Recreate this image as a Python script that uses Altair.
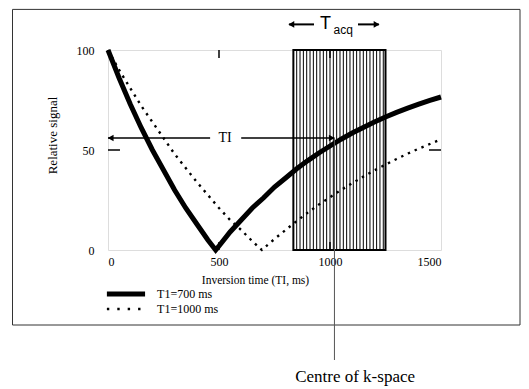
import altair as alt
import pandas as pd

# ---- data ----
t_700 = [0, 50, 100, 150, 200, 250, 300, 350, 400, 450, 485, 500, 550, 600, 650, 700, 750,
         800, 850, 900, 950, 1000, 1050, 1100, 1150, 1200, 1250, 1300, 1350, 1400, 1450, 1500]
s_700 = [100, 86, 73, 61, 50, 40, 30, 21, 13, 5, 0, 2, 9, 15, 21, 26, 31.5,
         36, 40.6, 44.7, 48.5, 52, 55.4, 58.5, 61.3, 64, 66.5, 68.8, 70.9, 72.9, 74.8, 76.5]
t_1000 = [0, 50, 100, 150, 200, 250, 300, 350, 400, 450, 500, 550, 600, 650, 693, 700, 750,
          800, 850, 900, 950, 1000, 1050, 1100, 1150, 1200, 1250, 1300, 1350, 1400, 1450, 1500]
s_1000 = [100, 90, 81, 72, 64, 56, 48, 41, 34, 27.5, 21, 15, 10, 4.4, 0, 0.7, 5.5,
          10, 14.5, 18.7, 22.7, 26.4, 30, 33.4, 36.7, 39.8, 42.7, 45.5, 48.2, 50.7, 53, 55.4]
series_names = ["T1=700 ms", "T1=1000 ms"]

x_ticks = [0, 500, 1000, 1500]
y_ticks = [0, 50, 100]

acq_start, acq_end = 835, 1250          # acquisition window (ms)
hatch_x = list(range(850, 1250, 15))     # vertical hatch lines inside window
ti_value = 1020                          # centre of k-space (ms)
ti_level = 56                            # level of the TI arrow

SERIF = "Liberation Serif"
SANS = "Liberation Sans"

xs = alt.Scale(domain=[0, 1500], nice=False, zero=False)
ys = alt.Scale(domain=[0, 100], nice=False, zero=False)

df = pd.DataFrame(
    [{"t": a, "s": b, "series": series_names[0]} for a, b in zip(t_700, s_700)]
    + [{"t": a, "s": b, "series": series_names[1]} for a, b in zip(t_1000, s_1000)]
)

# outer frame (pixel coords relative to the plot area)
frame = alt.Chart(pd.DataFrame({"a": [0]})).mark_rect(
    fill=None, stroke="#333", strokeWidth=1
).encode(x=alt.value(-95.5), x2=alt.value(412), y=alt.value(-40.6), y2=alt.value(275))

base_axes = alt.Chart(df).mark_point(opacity=0).encode(
    x=alt.X("t:Q", scale=xs,
            axis=alt.Axis(values=x_ticks, format="d", grid=False, domain=False, tickSize=0,
                          labelFont=SERIF, labelFontSize=12, labelPadding=6, labelColor="black",
                          title="Inversion time (TI, ms)", titleFont=SERIF, titleFontSize=11.5,
                          titleFontWeight="normal", titleX=147, titleY=30,
                          titleBaseline="middle", titleColor="black")),
    y=alt.Y("s:Q", scale=ys,
            axis=alt.Axis(values=y_ticks, format="d", grid=False, domain=False, tickSize=0,
                          labelFont=SERIF, labelFontSize=12, labelPadding=14, labelColor="black",
                          title="Relative signal", titleFont=SERIF, titleFontSize=13,
                          titleFontWeight="normal", titleX=-56, titleY=85, titleAngle=270,
                          titleAlign="center", titleBaseline="middle", titleColor="black")),
)

hatch = alt.Chart(pd.DataFrame({"x": hatch_x})).mark_rule(color="black", strokeWidth=1).encode(
    x=alt.X("x:Q", scale=xs), y=alt.datum(0), y2=alt.datum(100)
)
hatch_box = alt.Chart(pd.DataFrame({"x": [acq_start], "x2": [acq_end]})).mark_rect(
    fill=None, stroke="black", strokeWidth=2
).encode(x=alt.X("x:Q", scale=xs), x2="x2:Q", y=alt.datum(0), y2=alt.datum(100))

ticks_x = alt.Chart(pd.DataFrame({"x": [500, 1000, 500, 1000], "y": [100, 100, 0, 0],
                                  "y2": [96, 96, 4, 4]})).mark_rule(color="black", strokeWidth=1.5).encode(
    x=alt.X("x:Q", scale=xs), y=alt.Y("y:Q", scale=ys), y2="y2:Q")
ticks_y = alt.Chart(pd.DataFrame({"x": [0, 1500], "x2": [54, 1446], "y": [50, 50]})).mark_rule(
    color="black", strokeWidth=1.5).encode(
    x=alt.X("x:Q", scale=xs), x2="x2:Q", y=alt.Y("y:Q", scale=ys))

line700 = alt.Chart(df[df.series == series_names[0]]).mark_line(
    color="black", strokeWidth=5, strokeJoin="miter").encode(
    x=alt.X("t:Q", scale=xs), y=alt.Y("s:Q", scale=ys))
line1000 = alt.Chart(df[df.series == series_names[1]]).mark_line(
    color="black", strokeWidth=2.4, strokeDash=[2.4, 5]).encode(
    x=alt.X("t:Q", scale=xs), y=alt.Y("s:Q", scale=ys))

# TI arrow
ti_seg = alt.Chart(pd.DataFrame({"x": [0, 600], "x2": [460, ti_value], "y": [ti_level, ti_level]})).mark_rule(
    color="black", strokeWidth=1.5).encode(x=alt.X("x:Q", scale=xs), x2="x2:Q", y=alt.Y("y:Q", scale=ys))
heads = alt.Chart(pd.DataFrame({
    "x": [12, ti_value - 12, 826, 1210],
    "y": [ti_level, ti_level, 112.8, 112.8],
    "shape": ["triangle-left", "triangle-right", "triangle-left", "triangle-right"],
})).mark_point(filled=True, color="black", opacity=1, size=45).encode(
    x=alt.X("x:Q", scale=xs), y=alt.Y("y:Q", scale=ys),
    shape=alt.Shape("shape:N", scale=None))
ti_text = alt.Chart(pd.DataFrame({"x": [527], "y": [ti_level], "txt": ["TI"]})).mark_text(
    font=SERIF, fontSize=14, baseline="middle", align="center", color="black").encode(
    x=alt.X("x:Q", scale=xs), y=alt.Y("y:Q", scale=ys), text="txt:N")

centre_line = alt.Chart(pd.DataFrame({"x": [ti_value], "y": [ti_level], "y2": [-55]})).mark_rule(
    color="#555", strokeWidth=1).encode(x=alt.X("x:Q", scale=xs), y=alt.Y("y:Q", scale=ys), y2="y2:Q")
centre_text = alt.Chart(pd.DataFrame({"x": [1113], "y": [-63.5], "txt": ["Centre of k-space"]})).mark_text(
    font=SERIF, fontSize=17, baseline="middle", align="center", color="black").encode(
    x=alt.X("x:Q", scale=xs), y=alt.Y("y:Q", scale=ys), text="txt:N")

# T_acq annotation
acq_arrows = alt.Chart(pd.DataFrame({"x": [815, 1126], "x2": [928, 1220], "y": [112.8, 112.8]})).mark_rule(
    color="black", strokeWidth=2).encode(x=alt.X("x:Q", scale=xs), x2="x2:Q", y=alt.Y("y:Q", scale=ys))
acq_T = alt.Chart(pd.DataFrame({"x": [980], "y": [113], "txt": ["T"]})).mark_text(
    font=SANS, fontSize=18, baseline="middle", align="center", color="black").encode(
    x=alt.X("x:Q", scale=xs), y=alt.Y("y:Q", scale=ys), text="txt:N")
acq_sub = alt.Chart(pd.DataFrame({"x": [1016], "y": [110], "txt": ["acq"]})).mark_text(
    font=SANS, fontSize=12, baseline="middle", align="left", color="black").encode(
    x=alt.X("x:Q", scale=xs), y=alt.Y("y:Q", scale=ys), text="txt:N")

# legend (drawn by hand, under the x-axis title)
leg_solid = alt.Chart(pd.DataFrame({"x": [-5], "x2": [167], "y": [-22]})).mark_rule(
    color="black", strokeWidth=5).encode(x=alt.X("x:Q", scale=xs), x2="x2:Q", y=alt.Y("y:Q", scale=ys))
leg_dot = alt.Chart(pd.DataFrame({"x": [-5], "x2": [167], "y": [-29.5]})).mark_rule(
    color="black", strokeWidth=2.4, strokeDash=[2.4, 8]).encode(
    x=alt.X("x:Q", scale=xs), x2="x2:Q", y=alt.Y("y:Q", scale=ys))
leg_text = alt.Chart(pd.DataFrame({"x": [221, 221], "y": [-22, -29.5], "txt": series_names})).mark_text(
    font=SERIF, fontSize=12, baseline="middle", align="left", color="black").encode(
    x=alt.X("x:Q", scale=xs), y=alt.Y("y:Q", scale=ys), text="txt:N")

chart = alt.layer(
    frame, base_axes, hatch, hatch_box, ticks_x, ticks_y, line1000, line700,
    ti_seg, heads, ti_text, centre_line, centre_text,
    acq_arrows, acq_T, acq_sub, leg_solid, leg_dot, leg_text,
).properties(
    width=333, height=200,
    padding={"left": 100, "top": 42, "right": 80, "bottom": 138},
    autosize=alt.AutoSizeParams(type="none"),
).configure_view(stroke="black", strokeWidth=1.5).configure(background="white")

chart.save("out.html", embed_options={"renderer": "svg", "actions": False})
